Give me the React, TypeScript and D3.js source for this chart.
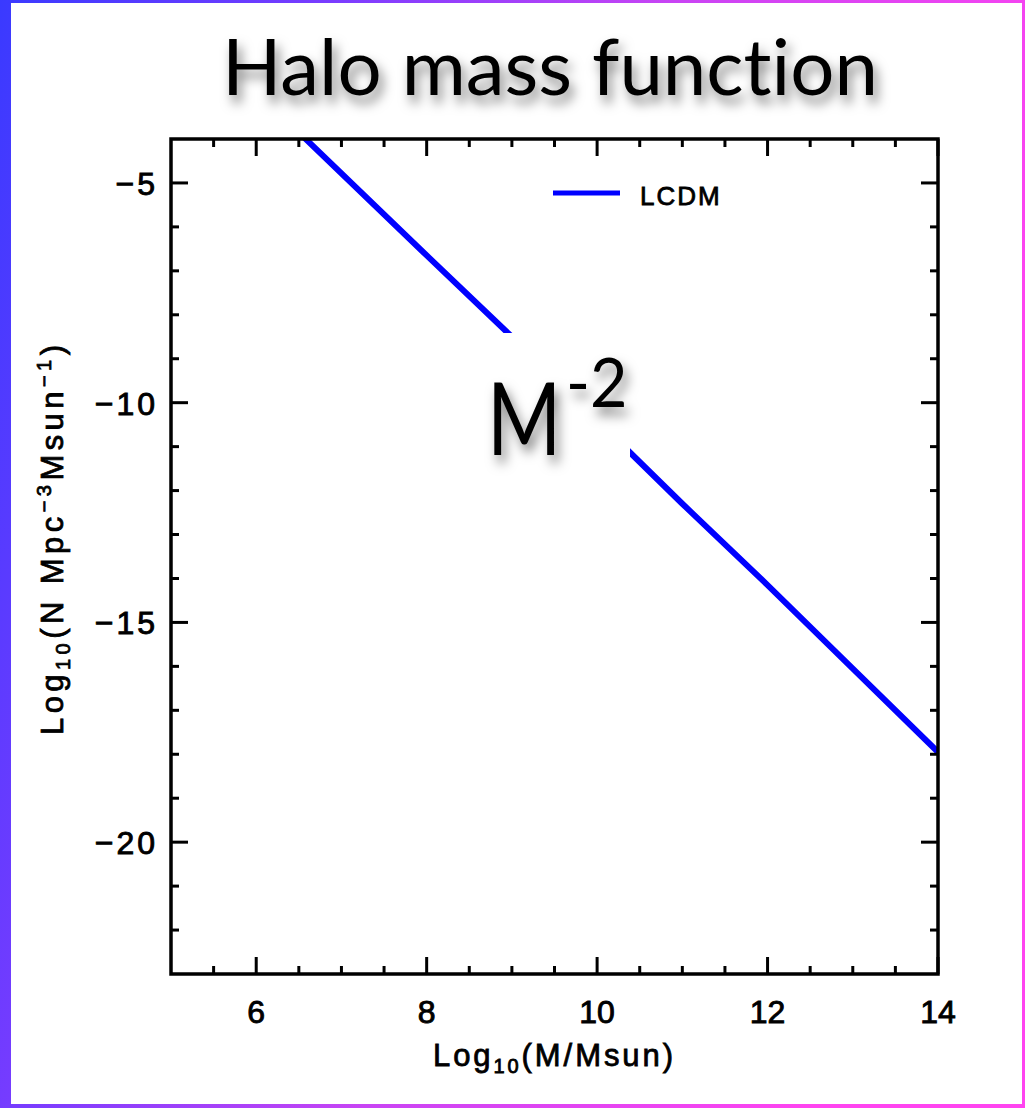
import React from "react";
import * as d3 from "d3";

const massLog = [6.5, 8, 9, 10, 11, 12, 13, 14];
const lcdmLogN = [-3.85, -6.65, -8.5, -10.4, -12.3, -14.15, -16.05, -17.95];
const xMajorTicks = [6, 8, 10, 12, 14];
const yMajorTicks = [-5, -10, -15, -20];
const seriesName = "LCDM";
const titleText = "Halo mass function";

const W = 1025;
const H = 1108;
const L = 171, R = 938, T = 139, B = 974;

export default function App() {
  const x = d3.scaleLinear().domain([5, 14]).range([L, R]);
  const y = d3.scaleLinear().domain([-23, -4]).range([B, T]);
  const xMinor = d3.range(5.5, 14, 0.5).filter((v) => !xMajorTicks.includes(v));
  const yMinor = d3.range(-22, -4, 1).filter((v) => !yMajorTicks.includes(v));
  const line = d3
    .line<number>()
    .x((_, i) => x(massLog[i]))
    .y((d) => y(d));
  const axisFont = "'Liberation Sans', Arial, sans-serif";
  const tickStyle = { stroke: "#000", strokeWidth: 3 };
  const minorLen = 8;
  const majorLen = 17;
  const noLig = { fontVariantLigatures: "none", fontFeatureSettings: "'liga' 0, 'clig' 0" } as any;

  return (
    <svg
      width={W}
      height={H}
      style={{ position: "absolute", left: 0, top: 0 }}
      xmlns="http://www.w3.org/2000/svg"
    >
      <defs>
        <linearGradient id="bg" x1="0" y1="0" x2="1" y2="0.3">
          <stop offset="0" stopColor="#3a3aff" />
          <stop offset="0.3" stopColor="#7a3cff" />
          <stop offset="0.6" stopColor="#c844f4" />
          <stop offset="1" stopColor="#ff44f0" />
        </linearGradient>
        <filter id="shadow" x="-20%" y="-30%" width="140%" height="170%">
          <feDropShadow dx="4" dy="8" stdDeviation="6" floodColor="#000" floodOpacity="0.5" />
        </filter>
        <clipPath id="plotclip">
          <rect x={L} y={T} width={R - L} height={B - T} />
        </clipPath>
      </defs>
      <rect x={0} y={0} width={W} height={H} fill="url(#bg)" />
      <rect x={11} y={3} width={1011} height={1101} fill="#fff" />

      {/* title */}
      <text
        x={550}
        y={95}
        textAnchor="middle"
        fontFamily="Lato, 'Open Sans', sans-serif"
        fontSize={78}
        textLength={656}
        lengthAdjust="spacingAndGlyphs"
        fill="#000"
        filter="url(#shadow)"
        style={noLig}
      >
        {titleText}
      </text>

      {/* data line */}
      <g clipPath="url(#plotclip)">
        <path d={line(lcdmLogN) || ""} fill="none" stroke="#0000ff" strokeWidth={6} />
      </g>

      {/* M^-2 annotation box */}
      <rect x={455} y={333} width={175} height={150} fill="#fff" />
      <g filter="url(#shadow)" fontFamily="Lato, 'Open Sans', sans-serif" fill="#000">
        <text transform="translate(487,455) scale(0.8,1)" fontSize={100}>M</text>
        <text transform="translate(566,407) scale(0.95,1)" fontSize={68}>-2</text>
      </g>

      {/* frame */}
      <rect x={L} y={T} width={R - L} height={B - T} fill="none" stroke="#000" strokeWidth={3.5} />

      {/* x ticks */}
      {xMinor.map((v) => (
        <g key={"xm" + v}>
          <line x1={x(v)} x2={x(v)} y1={B} y2={B - minorLen} {...tickStyle} />
          <line x1={x(v)} x2={x(v)} y1={T} y2={T + minorLen} {...tickStyle} />
        </g>
      ))}
      {xMajorTicks.map((v) => (
        <g key={"xM" + v}>
          <line x1={x(v)} x2={x(v)} y1={B} y2={B - majorLen} {...tickStyle} />
          <line x1={x(v)} x2={x(v)} y1={T} y2={T + majorLen} {...tickStyle} />
          <text
            x={x(v)}
            y={1023}
            textAnchor="middle"
            fontFamily={axisFont}
            fontSize={32}
            stroke="#000"
            strokeWidth={0.9}
            fill="#000"
          >
            {v}
          </text>
        </g>
      ))}

      {/* y ticks */}
      {yMinor.map((v) => (
        <g key={"ym" + v}>
          <line x1={L} x2={L + minorLen} y1={y(v)} y2={y(v)} {...tickStyle} />
          <line x1={R} x2={R - minorLen} y1={y(v)} y2={y(v)} {...tickStyle} />
        </g>
      ))}
      {yMajorTicks.map((v) => (
        <g key={"yM" + v}>
          <line x1={L} x2={L + majorLen} y1={y(v)} y2={y(v)} {...tickStyle} />
          <line x1={R} x2={R - majorLen} y1={y(v)} y2={y(v)} {...tickStyle} />
          <text
            x={158}
            y={y(v) + 12}
            textAnchor="end"
            fontFamily={axisFont}
            fontSize={32}
            letterSpacing={3}
            stroke="#000"
            strokeWidth={0.9}
            fill="#000"
          >
            {"\u2212" + Math.abs(v)}
          </text>
        </g>
      ))}

      {/* legend */}
      <line x1={553} x2={620} y1={193} y2={193} stroke="#0000ff" strokeWidth={5} />
      <text
        x={640}
        y={205}
        fontFamily={axisFont}
        fontSize={26}
        letterSpacing={2}
        stroke="#000"
        strokeWidth={0.8}
        fill="#000"
      >
        {seriesName}
      </text>

      {/* x axis title */}
      <text
        x={433}
        y={1066}
        fontFamily={axisFont}
        fontSize={31}
        textLength={240}
        lengthAdjust="spacing"
        stroke="#000"
        strokeWidth={0.8}
        fill="#000"
      >
        Log
        <tspan fontSize={20} dy={7}>10</tspan>
        <tspan dy={-7}>(M/Msun)</tspan>
      </text>

      {/* y axis title */}
      <text
        transform="translate(63,735) rotate(-90)"
        x={0}
        y={0}
        fontFamily={axisFont}
        fontSize={31}
        textLength={390}
        lengthAdjust="spacing"
        stroke="#000"
        strokeWidth={0.8}
        fill="#000"
      >
        Log
        <tspan fontSize={20} dy={7}>10</tspan>
        <tspan dy={-7}>(N  Mpc</tspan>
        <tspan fontSize={20} dy={-12}>{"\u22123"}</tspan>
        <tspan dy={12}>Msun</tspan>
        <tspan fontSize={20} dy={-12}>{"\u22121"}</tspan>
        <tspan dy={12}>)</tspan>
      </text>
    </svg>
  );
}
